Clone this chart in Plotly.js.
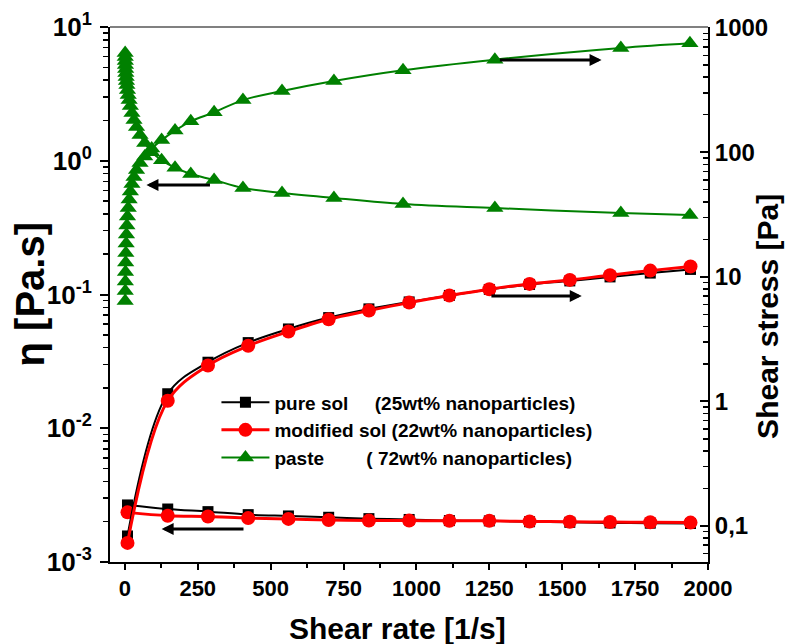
<!DOCTYPE html>
<html>
<head>
<meta charset="utf-8">
<script src="https://cdn.plot.ly/plotly-3.0.1.min.js"></script>
<style>html,body{margin:0;padding:0;background:#fff;}#chart{width:805px;height:644px;}</style>
</head>
<body>
<div id="chart"></div>
<script>
// ---- data ----
const shearRateSol = [9, 147, 285, 423, 561, 699, 837, 975, 1113, 1250, 1388, 1526, 1664, 1802, 1940];
const etaPure = [2.67e-3, 2.49e-3, 2.38e-3, 2.26e-3, 2.21e-3, 2.16e-3, 2.11e-3, 2.08e-3, 2.04e-3, 2.03e-3, 2.00e-3, 1.98e-3, 1.96e-3, 1.95e-3, 1.94e-3];
const etaModified = [2.35e-3, 2.22e-3, 2.19e-3, 2.13e-3, 2.10e-3, 2.06e-3, 2.04e-3, 2.04e-3, 2.03e-3, 2.03e-3, 2.01e-3, 2.00e-3, 1.99e-3, 1.98e-3, 1.97e-3];
const stressPure = [0.083, 1.15, 2.06, 2.96, 3.81, 4.70, 5.52, 6.28, 7.08, 7.91, 8.68, 9.26, 9.97, 10.7, 11.45];
const stressModified = [0.073, 1.01, 1.94, 2.79, 3.63, 4.56, 5.35, 6.20, 7.06, 7.94, 8.76, 9.43, 10.3, 11.2, 12.1];

const shearRatePaste = [1.0, 1.3, 1.65, 2.1, 2.7, 3.4, 4.4, 5.5, 7.0, 9.0, 11.5, 14.6, 18.8, 24.3, 31.3, 40, 52, 68, 92, 126, 172, 226, 306, 405, 539, 717, 954, 1269, 1701, 1938];
const etaPaste = [6.39, 5.97, 5.57, 5.20, 4.85, 4.53, 4.23, 3.95, 3.69, 3.38, 3.10, 2.85, 2.57, 2.28, 2.02, 1.79, 1.56, 1.36, 1.16, 1.01, 0.887, 0.796, 0.718, 0.626, 0.574, 0.527, 0.475, 0.443, 0.407, 0.393];
const stressPaste = [6.40, 7.68, 9.15, 10.9, 13.0, 15.5, 18.5, 21.8, 25.8, 30.4, 35.6, 41.7, 48.3, 55.5, 63.1, 71.8, 81.8, 92.2, 107, 125, 149, 177, 209, 262, 310, 373, 455, 553, 686, 748];

const legendNames = [
  'pure sol\u00a0\u00a0\u00a0\u00a0\u00a0(25wt% nanoparticles)',
  'modified sol (22wt% nanoparticles)',
  'paste\u00a0\u00a0\u00a0\u00a0\u00a0\u00a0\u00a0\u00a0( 72wt% nanoparticles)'
];

const leftTickVals = [0.001, 0.01, 0.1, 1, 10];
const leftTickText = ['10<sup>-3</sup>', '10<sup>-2</sup>', '10<sup>-1</sup>', '10<sup>0</sup>', '10<sup>1</sup>'];
const rightTickVals = [0.1, 1, 10, 100, 1000];
const rightTickText = ['0,1', '1', '10', '100', '1000'];

const xTitle = 'Shear rate [1/s]';
const leftTitle = '\u03b7 [Pa.s]';
const rightTitle = 'Shear stress [Pa]';

// minor tick positions (2..9 within each decade)
function minorLog(lo, hi) {
  const out = [];
  for (let e = lo; e <= hi; e++) for (let m = 2; m <= 9; m++) out.push(m * Math.pow(10, e));
  return out;
}

const FONT = 'Liberation Sans, Arial, sans-serif';

const traces = [
  {x: shearRateSol, y: etaPure, yaxis: 'y', name: legendNames[0], legendgroup: 'pure', mode: 'lines+markers',
   line: {color: '#000000', width: 2, shape: 'spline'}, marker: {symbol: 'square', size: 11, color: '#000000'}},
  {x: shearRateSol, y: stressPure, yaxis: 'y2', name: legendNames[0], legendgroup: 'pure', showlegend: false, mode: 'lines+markers',
   line: {color: '#000000', width: 2, shape: 'spline'}, marker: {symbol: 'square', size: 11, color: '#000000'}},
  {x: shearRateSol, y: etaModified, yaxis: 'y', name: legendNames[1], legendgroup: 'mod', mode: 'lines+markers',
   line: {color: '#ff0000', width: 3, shape: 'spline'}, marker: {symbol: 'circle', size: 14, color: '#ff0000'}},
  {x: shearRateSol, y: stressModified, yaxis: 'y2', name: legendNames[1], legendgroup: 'mod', showlegend: false, mode: 'lines+markers',
   line: {color: '#ff0000', width: 3, shape: 'spline'}, marker: {symbol: 'circle', size: 14, color: '#ff0000'}},
  {x: shearRatePaste, y: etaPaste, yaxis: 'y', name: legendNames[2], legendgroup: 'paste', mode: 'lines+markers',
   line: {color: '#008000', width: 2, shape: 'spline'}, marker: {symbol: 'triangle-up', size: 15, color: '#008000'}},
  {x: shearRatePaste, y: stressPaste, yaxis: 'y2', name: legendNames[2], legendgroup: 'paste', showlegend: false, mode: 'lines+markers',
   line: {color: '#008000', width: 2, shape: 'spline'}, marker: {symbol: 'triangle-up', size: 15, color: '#008000'}}
];

function arrow(yref, yLog, xHead, xTail) {
  return {xref: 'x', yref: yref, axref: 'x', ayref: yref, x: xHead, y: yLog, ax: xTail, ay: yLog,
          showarrow: true, arrowhead: 2, arrowsize: 0.8, arrowwidth: 3, arrowcolor: '#000000', text: ''};
}

const layout = {
  width: 805, height: 644,
  paper_bgcolor: '#ffffff', plot_bgcolor: '#ffffff',
  margin: {l: 110, r: 97, t: 27, b: 82},
  font: {family: FONT, color: '#000000', weight: 'bold'},
  showlegend: true,
  legend: {x: 0.178, y: 0.334, xanchor: 'left', yanchor: 'top', bgcolor: 'rgba(0,0,0,0)',
           font: {family: FONT, size: 19, color: '#000000', weight: 'bold'}, itemwidth: 48, tracegroupgap: 0},
  xaxis: {range: [-51, 2000], tick0: 0, dtick: 250, showline: true, linecolor: '#000000', linewidth: 2,
          ticks: 'outside', ticklen: 6, tickwidth: 2, tickcolor: '#000000', showgrid: false, zeroline: false,
          minor: {tick0: 0, dtick: 125, ticks: 'outside', ticklen: 4, tickwidth: 2, tickcolor: '#000000', showgrid: false},
          tickfont: {family: FONT, size: 22, weight: 'bold'}},
  yaxis: {type: 'log', range: [-3, 1], tickmode: 'array', tickvals: leftTickVals, ticktext: leftTickText,
          showline: true, linecolor: '#000000', linewidth: 2, ticks: 'outside', ticklen: 8, tickwidth: 2, tickcolor: '#000000',
          showgrid: false, zeroline: false, ticklabelstandoff: 3,
          minor: {tickmode: 'array', tickvals: minorLog(-3, 0), ticks: 'outside', ticklen: 5, tickwidth: 1.5, tickcolor: '#000000', showgrid: false},
          tickfont: {family: FONT, size: 26, weight: 'bold'}},
  yaxis2: {type: 'log', overlaying: 'y', side: 'right', range: [-1.29, 3.005], tickmode: 'array', tickvals: rightTickVals, ticktext: rightTickText,
           showline: true, linecolor: '#000000', linewidth: 2, ticks: 'inside', ticklen: 8, tickwidth: 2, tickcolor: '#000000',
           showgrid: false, zeroline: false,
           minor: {tickmode: 'array', tickvals: minorLog(-2, 2), ticks: 'inside', ticklen: 5, tickwidth: 1.5, tickcolor: '#000000', showgrid: false},
           tickfont: {family: FONT, size: 24, weight: 'bold'}},
  shapes: [{type: 'line', xref: 'paper', yref: 'paper', x0: 0, x1: 1, y0: 1, y1: 1, line: {color: '#808080', width: 2}}],
  annotations: [
    arrow('y', -0.181, 74, 297),
    arrow('y2', 2.740, 1635, 1281),
    arrow('y2', 0.846, 1567, 1252),
    arrow('y', -2.753, 126, 412),
    {xref: 'paper', yref: 'paper', x: 0.4816, y: -0.1234, xanchor: 'center', yanchor: 'middle', showarrow: false,
     text: xTitle, font: {family: FONT, size: 30, weight: 'bold'}},
    {xref: 'paper', yref: 'paper', x: -0.1338, y: 0.5, xanchor: 'center', yanchor: 'middle', showarrow: false, textangle: -90,
     text: leftTitle, font: {family: FONT, size: 40, weight: 'bold'}},
    {xref: 'paper', yref: 'paper', x: 1.1003, y: 0.46, xanchor: 'center', yanchor: 'middle', showarrow: false, textangle: -90,
     text: rightTitle, font: {family: FONT, size: 30, weight: 'bold'}}
  ]
};

Plotly.newPlot('chart', traces, layout, {displayModeBar: false, staticPlot: true});
</script>
</body>
</html>
